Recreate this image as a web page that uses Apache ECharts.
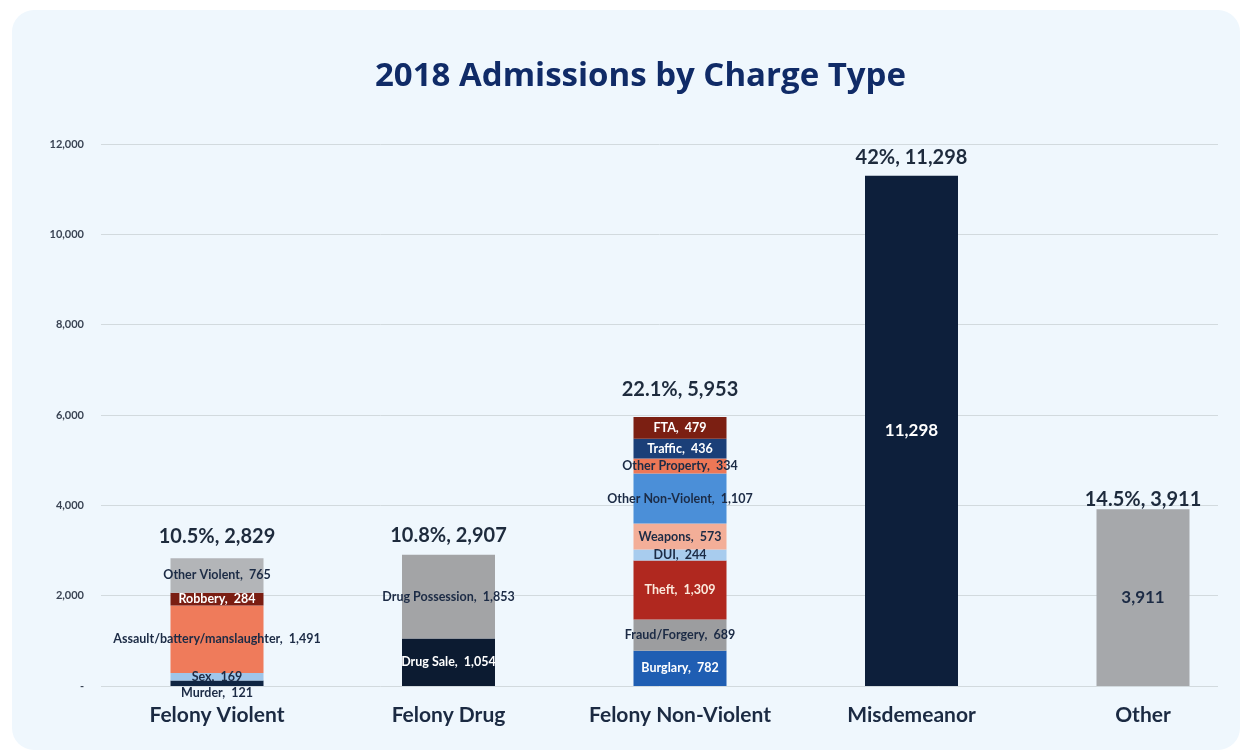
<!DOCTYPE html>
<html>
<head>
<meta charset="utf-8">
<title>2018 Admissions by Charge Type</title>
<script src="https://cdn.jsdelivr.net/npm/echarts@6/dist/echarts.min.js"></script>
<style>
  html, body { margin: 0; padding: 0; background: #ffffff; }
  .card {
    position: absolute; left: 12px; top: 10px; width: 1228px; height: 740px;
    border-radius: 22px; background: #eff7fd;
  }
  #chart { position: absolute; left: 0; top: 0; width: 1243px; height: 754px; }
</style>
</head>
<body>
<div class="card"></div>
<div id="chart"></div>
<script>
// chart data
const categories = ['Felony Violent', 'Felony Drug', 'Felony Non-Violent', 'Misdemeanor', 'Other']
const totals = [2829, 2907, 5953, 11298, 3911]
const shares = ['10.5%', '10.8%', '22.1%', '42%', '14.5%']

const violentNames = ['Murder', 'Sex', 'Assault/battery/manslaughter', 'Robbery', 'Other Violent']
const violentValues = [121, 169, 1491, 284, 765]

const drugNames = ['Drug Sale', 'Drug Possession']
const drugValues = [1054, 1853]

const nonViolentNames = ['Burglary', 'Fraud/Forgery', 'Theft', 'DUI', 'Weapons', 'Other Non-Violent', 'Other Property', 'Traffic', 'FTA']
const nonViolentValues = [782, 689, 1309, 244, 573, 1107, 334, 436, 479]

const misdemeanorValues = [11298]
const otherValues = [3911]

const yTicks = [0, 2000, 4000, 6000, 8000, 10000, 12000]

// colours
const navy = '#1c2b45'
const violentColors = ['#0f2542', '#9fc6ea', '#ef7b5b', '#7a1d12', '#b3b5b8']
const drugColors = ['#0c1b31', '#a3a4a6']
const nonViolentColors = ['#1f5eb3', '#9c9d9f', '#b0281f', '#a8ccee', '#f3ae98', '#4b8fd8', '#ed7756', '#1b3f78', '#7b1f12']
const lightText = { 'Robbery': 1, 'Drug Sale': 1, 'Theft': 1, 'Traffic': 1, 'FTA': 1, 'Burglary': 1 }

const fmt = v => v.toLocaleString('en-US')

function segmentSeries(names, values, colors, catIndex) {
  return names.map((name, i) => {
    const data = categories.map(() => '-')
    data[catIndex] = values[i]
    return {
      name,
      type: 'bar',
      stack: 'all',
      xAxisIndex: 1,
      yAxisIndex: 1,
      barWidth: 93,
      data,
      itemStyle: { color: colors[i] },
      label: {
        show: true,
        position: 'inside',
        offset: name === 'Murder' ? [0, 10] : [0, 0],
        formatter: p => name + ',  ' + fmt(p.value),
        color: lightText[name] ? (name === 'Theft' ? '#fbe9dc' : '#ffffff') : navy,
        fontFamily: 'Lato',
        fontWeight: 'bold',
        fontSize: 12.5
      }
    }
  })
}

function singleSeries(name, values, color, catIndex, textColor) {
  const data = categories.map(() => '-')
  data[catIndex] = values[0]
  return {
    name,
    type: 'bar',
    stack: 'all',
    xAxisIndex: 1,
    yAxisIndex: 1,
    barWidth: 93,
    data,
    itemStyle: { color },
    label: {
      show: true,
      position: 'inside',
      formatter: p => fmt(p.value),
      color: textColor,
      fontFamily: 'Lato',
      fontWeight: 'bold',
      fontSize: 17
    }
  }
}

const totalGap = [12, 9, 18, 8, 0]

const series = [
  ...segmentSeries(violentNames, violentValues, violentColors, 0),
  ...segmentSeries(drugNames, drugValues, drugColors, 1),
  ...segmentSeries(nonViolentNames, nonViolentValues, nonViolentColors, 2),
  singleSeries('Misdemeanor', misdemeanorValues, '#0d1f3b', 3, '#ffffff'),
  singleSeries('Other', otherValues, '#a6a8ab', 4, navy),
  {
    name: 'Total',
    type: 'bar',
    stack: 'all',
    xAxisIndex: 1,
    yAxisIndex: 1,
    barWidth: 93,
    data: totals.map((t, i) => ({ value: 0, label: { distance: totalGap[i] } })),
    itemStyle: { color: 'transparent' },
    label: {
      show: true,
      position: 'top',
      formatter: p => shares[p.dataIndex] + ', ' + fmt(totals[p.dataIndex]),
      color: '#1e2b3d',
      fontFamily: 'Lato',
      fontWeight: 'bold',
      fontSize: 20
    }
  }
]

const chart = echarts.init(document.getElementById('chart'))
chart.setOption({
  animation: false,
  backgroundColor: 'transparent',
  title: {
    text: '2018 Admissions by Charge Type',
    left: 370,
    top: 55,
    textStyle: { color: '#102b67', fontFamily: 'Open Sans', fontWeight: 'bold', fontSize: 33 }
  },
  grid: [
    { left: 101, right: 25, top: 144, bottom: 68 },
    // bar grid: first and last category sit on the grid edges
    { left: 217, right: 100, top: 144, bottom: 68 }
  ],
  xAxis: [
    { type: 'category', gridIndex: 0, data: categories, show: false },
    {
      type: 'category',
      gridIndex: 1,
      data: categories,
      boundaryGap: false,
      axisLine: { show: false },
      axisTick: { show: false },
      axisLabel: { interval: 0, color: '#1b2a42', fontFamily: 'Lato', fontWeight: 'bold', fontSize: 21, margin: 19 }
    }
  ],
  yAxis: [
    {
      type: 'value',
      gridIndex: 0,
      min: yTicks[0],
      max: yTicks[yTicks.length - 1],
      interval: 2000,
      axisLine: { show: false },
      axisTick: { show: false },
      splitLine: { lineStyle: { color: '#d2dade', width: 1 } },
      axisLabel: {
        margin: 17,
        color: '#3a4454',
        fontFamily: 'Lato',
        fontWeight: 'bold',
        fontSize: 11,
        formatter: v => (v === 0 ? '-' : fmt(v))
      }
    },
    { type: 'value', gridIndex: 1, min: 0, max: 12000, interval: 2000, show: false }
  ],
  series
})
</script>
</body>
</html>
